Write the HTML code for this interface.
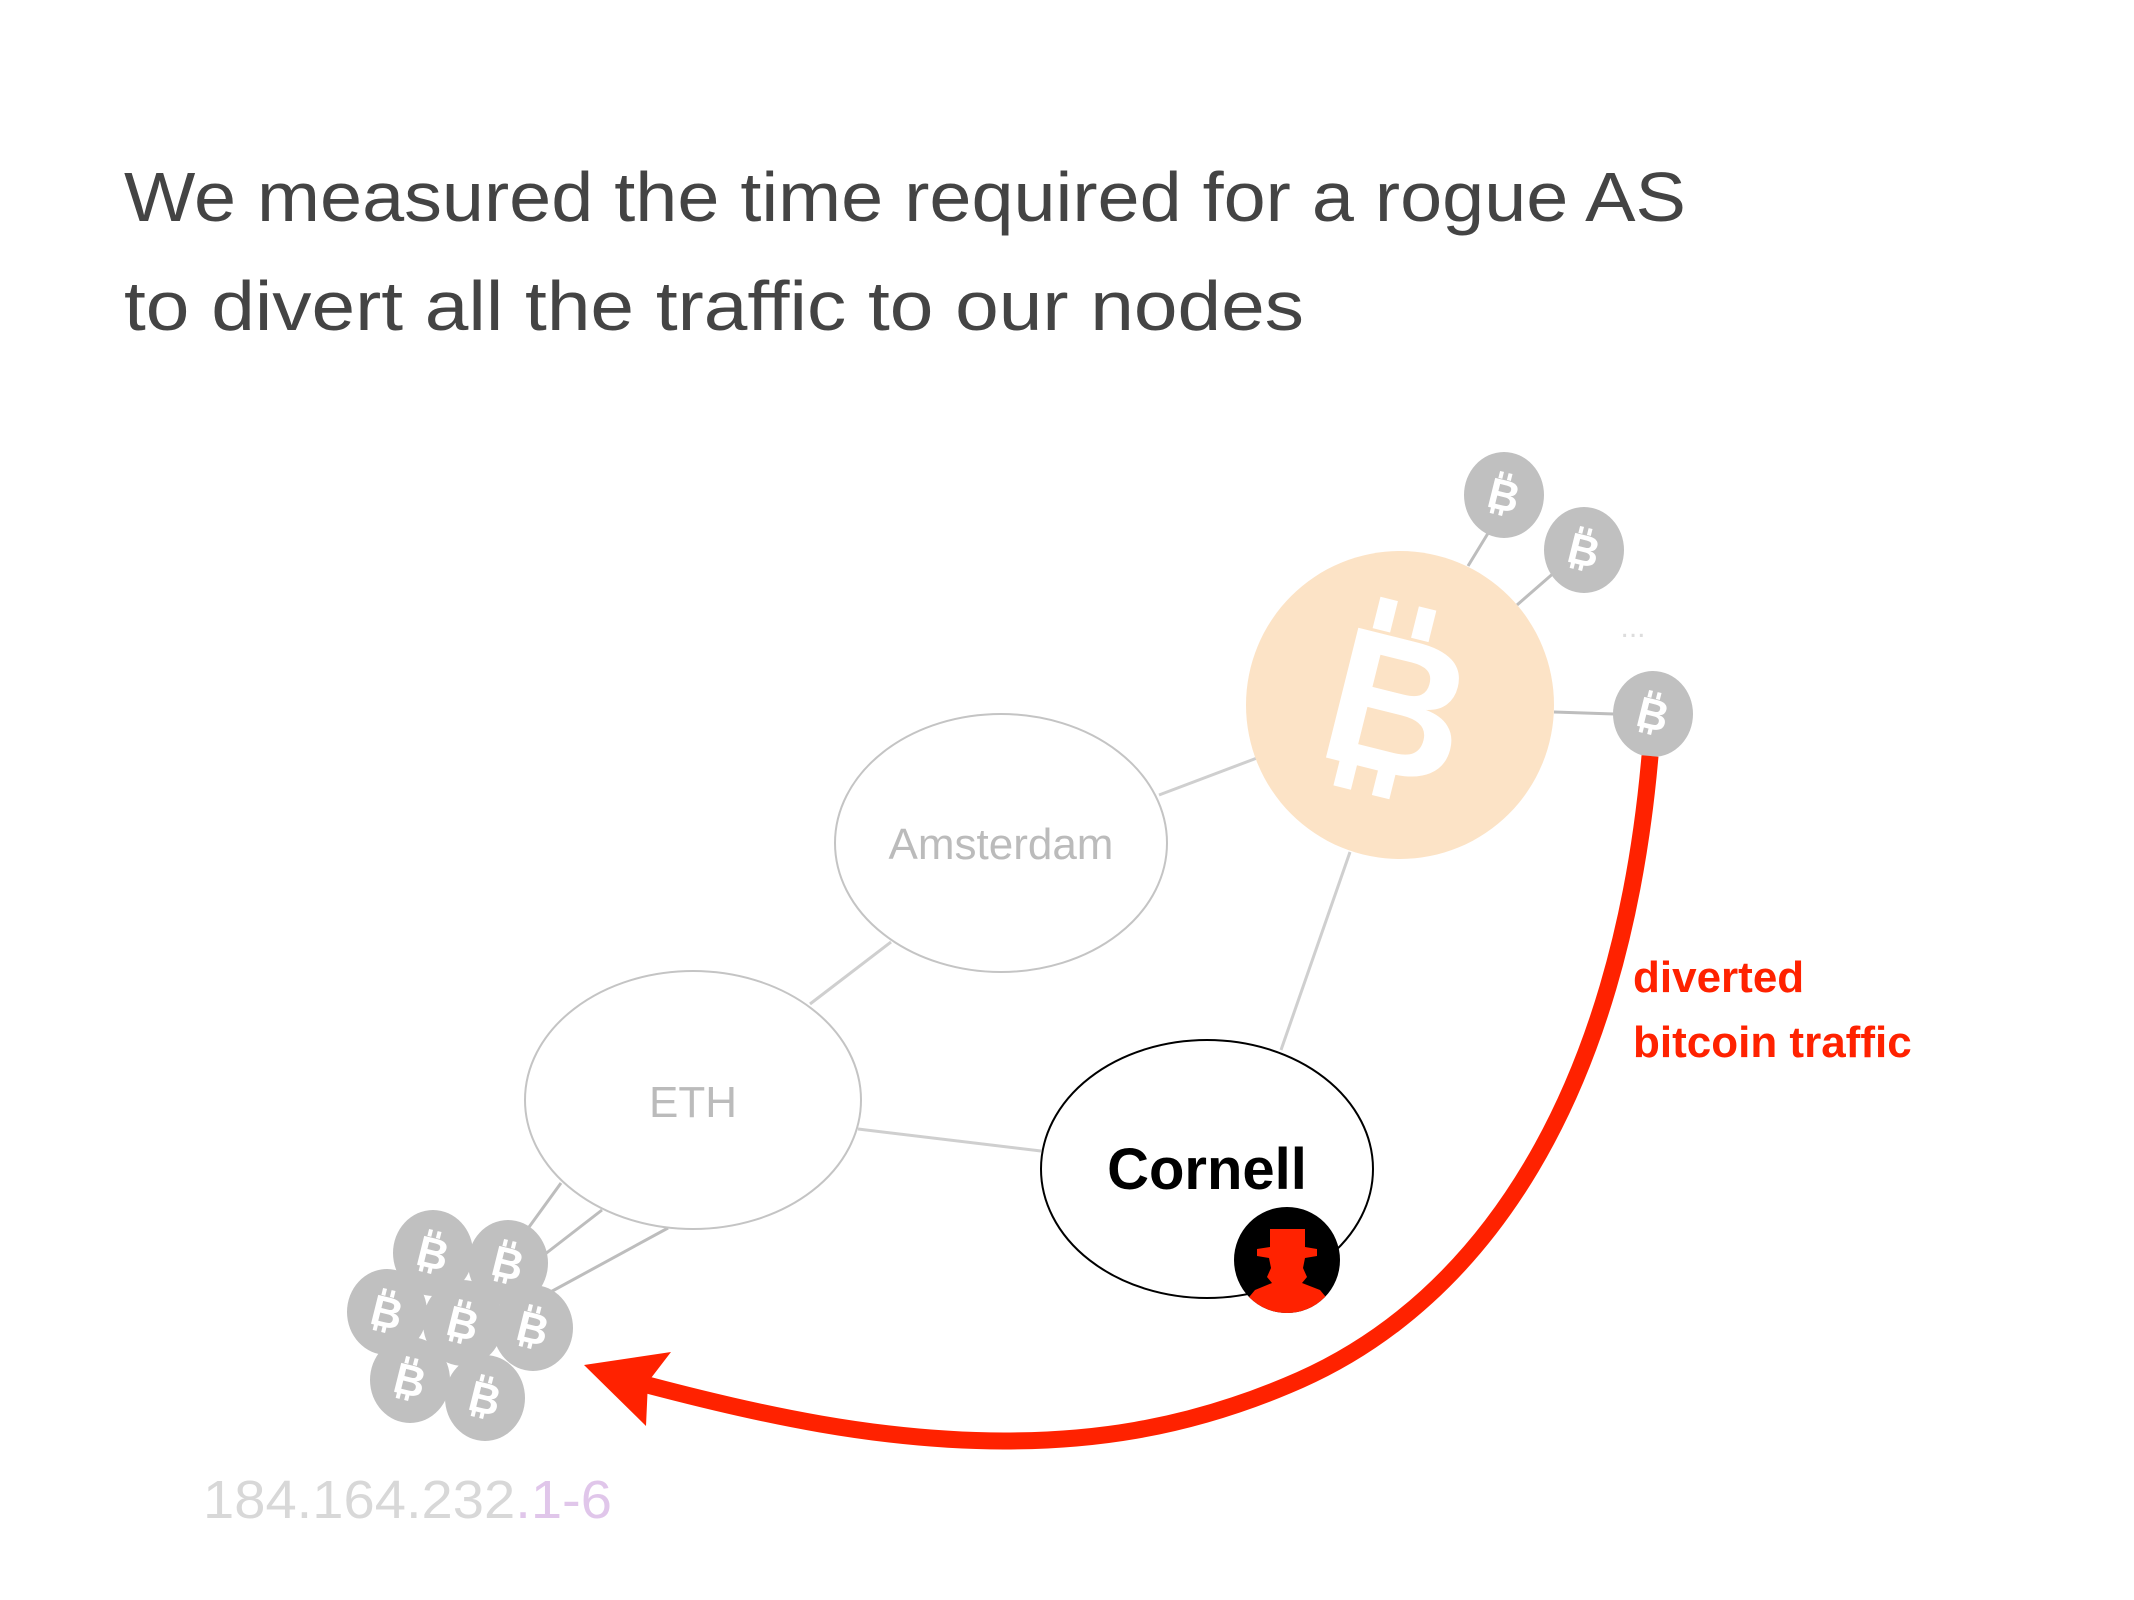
<!DOCTYPE html>
<html><head><meta charset="utf-8"><style>
html,body{margin:0;padding:0;background:#fff;}
svg{display:block;}
</style></head><body>
<svg width="2134" height="1600" viewBox="0 0 2134 1600" xmlns="http://www.w3.org/2000/svg" font-family="Liberation Sans, DejaVu Sans, sans-serif">
<rect width="2134" height="1600" fill="#fff"/>
<text x="124" y="221" font-size="70" fill="#444" textLength="1562" lengthAdjust="spacingAndGlyphs">We measured the time required for a rogue AS</text>
<text x="124" y="330" font-size="70" fill="#444" textLength="1180" lengthAdjust="spacingAndGlyphs">to divert all the traffic to our nodes</text>

<g stroke="#cfcfcf" stroke-width="3" fill="none">
<line x1="1159" y1="795" x2="1257" y2="758"/>
<line x1="1350" y1="852" x2="1281" y2="1050"/>
<line x1="810" y1="1004" x2="891" y2="942"/>
<line x1="858" y1="1129" x2="1041" y2="1151"/>
</g>
<g stroke="#bdbdbd" stroke-width="3" fill="none">
<line x1="1468" y1="566" x2="1490" y2="530"/>
<line x1="1517" y1="605" x2="1556" y2="571"/>
<line x1="1554" y1="712" x2="1614" y2="714"/>
<line x1="561" y1="1183" x2="516" y2="1245"/>
<line x1="602" y1="1210" x2="540" y2="1258"/>
<line x1="668" y1="1228" x2="545" y2="1295"/>
</g>

<ellipse cx="1001" cy="843" rx="166" ry="129" fill="#fff" stroke="#c4c4c4" stroke-width="2"/>
<text x="1001" y="859" font-size="44" fill="#bbb" text-anchor="middle">Amsterdam</text>
<ellipse cx="693" cy="1100" rx="168" ry="129" fill="#fff" stroke="#c4c4c4" stroke-width="2"/>
<text x="693" y="1117" font-size="44" fill="#bbb" text-anchor="middle">ETH</text>
<ellipse cx="1207" cy="1169" rx="166" ry="129" fill="#fff" stroke="#000" stroke-width="2"/>
<text x="1207" y="1189" font-size="58" font-weight="bold" fill="#000" text-anchor="middle">Cornell</text>

<!-- big bitcoin -->
<ellipse cx="1400" cy="705" rx="154" ry="154" fill="#fce3c6"/>
<g transform="translate(1398,705) rotate(14) scale(3.6)" fill="#fff">
<text x="0" y="19" font-size="54" font-weight="bold" text-anchor="middle">B</text>
<rect x="-12" y="-28" width="5" height="9"/><rect x="-1" y="-28" width="5" height="9"/>
<rect x="-12" y="17" width="5" height="9"/><rect x="-1" y="17" width="5" height="9"/>
</g>

<!-- small bitcoins -->
<g fill="#c0c0c0">
<ellipse cx="1504" cy="495" rx="40" ry="43"/>
<ellipse cx="1584" cy="550" rx="40" ry="43"/>
<ellipse cx="1653" cy="714" rx="40" ry="43"/>
<ellipse cx="433" cy="1253" rx="40" ry="43"/>
<ellipse cx="508" cy="1263" rx="40" ry="43"/>
<ellipse cx="387" cy="1312" rx="40" ry="43"/>
<ellipse cx="463" cy="1323" rx="40" ry="43"/>
<ellipse cx="533" cy="1328" rx="40" ry="43"/>
<ellipse cx="410" cy="1380" rx="40" ry="43"/>
<ellipse cx="485" cy="1398" rx="40" ry="43"/>
</g>
<g fill="#fff">
<g transform="translate(1504,495) rotate(14) scale(0.8)"><text x="0" y="19" font-size="54" font-weight="bold" text-anchor="middle">B</text><rect x="-12" y="-28" width="5" height="9"/><rect x="-1" y="-28" width="5" height="9"/><rect x="-12" y="17" width="5" height="9"/><rect x="-1" y="17" width="5" height="9"/></g>
<g transform="translate(1584,550) rotate(14) scale(0.8)"><text x="0" y="19" font-size="54" font-weight="bold" text-anchor="middle">B</text><rect x="-12" y="-28" width="5" height="9"/><rect x="-1" y="-28" width="5" height="9"/><rect x="-12" y="17" width="5" height="9"/><rect x="-1" y="17" width="5" height="9"/></g>
<g transform="translate(1653,714) rotate(14) scale(0.8)"><text x="0" y="19" font-size="54" font-weight="bold" text-anchor="middle">B</text><rect x="-12" y="-28" width="5" height="9"/><rect x="-1" y="-28" width="5" height="9"/><rect x="-12" y="17" width="5" height="9"/><rect x="-1" y="17" width="5" height="9"/></g>
<g transform="translate(433,1253) rotate(14) scale(0.8)"><text x="0" y="19" font-size="54" font-weight="bold" text-anchor="middle">B</text><rect x="-12" y="-28" width="5" height="9"/><rect x="-1" y="-28" width="5" height="9"/><rect x="-12" y="17" width="5" height="9"/><rect x="-1" y="17" width="5" height="9"/></g>
<g transform="translate(508,1263) rotate(14) scale(0.8)"><text x="0" y="19" font-size="54" font-weight="bold" text-anchor="middle">B</text><rect x="-12" y="-28" width="5" height="9"/><rect x="-1" y="-28" width="5" height="9"/><rect x="-12" y="17" width="5" height="9"/><rect x="-1" y="17" width="5" height="9"/></g>
<g transform="translate(387,1312) rotate(14) scale(0.8)"><text x="0" y="19" font-size="54" font-weight="bold" text-anchor="middle">B</text><rect x="-12" y="-28" width="5" height="9"/><rect x="-1" y="-28" width="5" height="9"/><rect x="-12" y="17" width="5" height="9"/><rect x="-1" y="17" width="5" height="9"/></g>
<g transform="translate(463,1323) rotate(14) scale(0.8)"><text x="0" y="19" font-size="54" font-weight="bold" text-anchor="middle">B</text><rect x="-12" y="-28" width="5" height="9"/><rect x="-1" y="-28" width="5" height="9"/><rect x="-12" y="17" width="5" height="9"/><rect x="-1" y="17" width="5" height="9"/></g>
<g transform="translate(533,1328) rotate(14) scale(0.8)"><text x="0" y="19" font-size="54" font-weight="bold" text-anchor="middle">B</text><rect x="-12" y="-28" width="5" height="9"/><rect x="-1" y="-28" width="5" height="9"/><rect x="-12" y="17" width="5" height="9"/><rect x="-1" y="17" width="5" height="9"/></g>
<g transform="translate(410,1380) rotate(14) scale(0.8)"><text x="0" y="19" font-size="54" font-weight="bold" text-anchor="middle">B</text><rect x="-12" y="-28" width="5" height="9"/><rect x="-1" y="-28" width="5" height="9"/><rect x="-12" y="17" width="5" height="9"/><rect x="-1" y="17" width="5" height="9"/></g>
<g transform="translate(485,1398) rotate(14) scale(0.8)"><text x="0" y="19" font-size="54" font-weight="bold" text-anchor="middle">B</text><rect x="-12" y="-28" width="5" height="9"/><rect x="-1" y="-28" width="5" height="9"/><rect x="-12" y="17" width="5" height="9"/><rect x="-1" y="17" width="5" height="9"/></g>
</g>

<text x="1633" y="637" font-size="30" fill="#ddd" text-anchor="middle">...</text>

<!-- hacker -->
<circle cx="1287" cy="1260" r="53" fill="#000"/>
<clipPath id="hc"><circle cx="1287" cy="1260" r="53"/></clipPath>
<g clip-path="url(#hc)" fill="#ff2200">
<path d="M1270 1229 L1305 1229 L1305 1247 L1317 1249 L1317 1256 L1305 1258 L1303 1268 L1307 1277 L1302 1283 L1320 1290 L1345 1320 L1230 1320 L1255 1290 L1272 1283 L1267 1277 L1271 1268 L1269 1258 L1257 1256 L1257 1249 L1270 1247 Z"/>
</g>

<!-- red arrow -->
<path d="M1650 756 C 1620 1100, 1480 1300, 1300 1380 C 1180 1433, 1080 1441, 1004 1441 C 880 1441, 760 1415, 640 1383" fill="none" stroke="#ff2200" stroke-width="17"/>
<path d="M584 1365 L671 1352 L648 1382 L646 1426 Z" fill="#ff2200"/>

<text x="1633" y="992" font-size="44" font-weight="bold" fill="#ff2200">diverted</text>
<text x="1633" y="1057" font-size="44" font-weight="bold" fill="#ff2200">bitcoin traffic</text>

<text x="203" y="1518" font-size="54" fill="#d8d8d8" textLength="409" lengthAdjust="spacingAndGlyphs">184.164.232<tspan fill="#e0c6ea">.1-6</tspan></text>
</svg>
</body></html>
